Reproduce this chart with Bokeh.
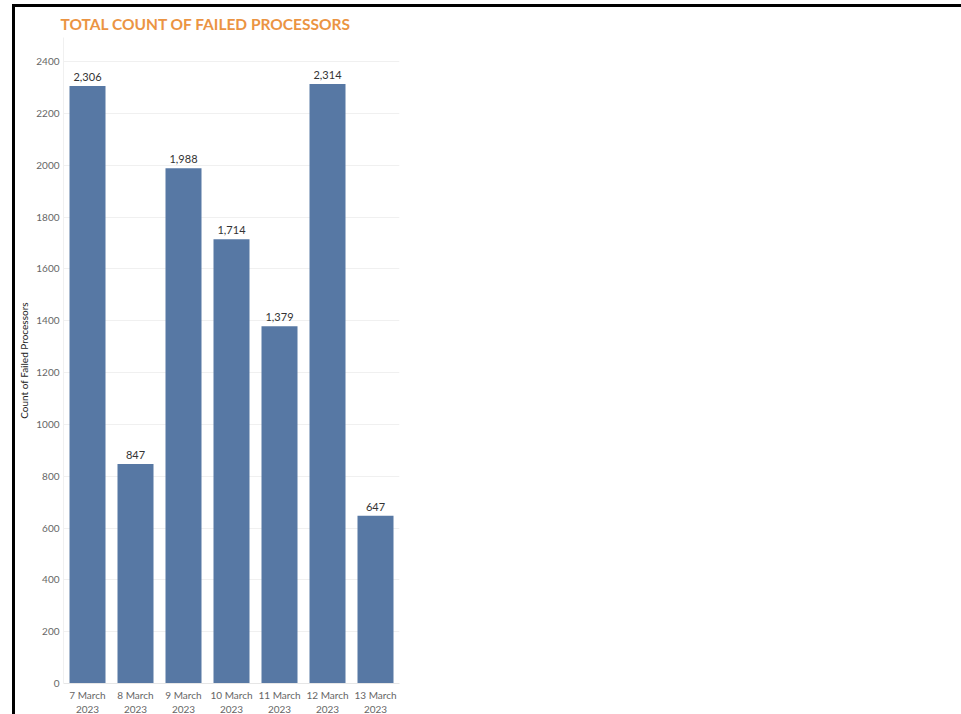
from bokeh.plotting import figure
from bokeh.models import ColumnDataSource, Range1d, FixedTicker
from bokeh.core.properties import value
from bokeh.embed import file_html
from bokeh.resources import INLINE

dates = ["7 March\n2023", "8 March\n2023", "9 March\n2023", "10 March\n2023",
         "11 March\n2023", "12 March\n2023", "13 March\n2023"]
counts = [2306, 847, 1988, 1714, 1379, 2314, 647]
labels = ["2,306", "847", "1,988", "1,714", "1,379", "2,314", "647"]
y_ticks = [0, 200, 400, 600, 800, 1000, 1200, 1400, 1600, 1800, 2000, 2200, 2400]

src = ColumnDataSource(dict(x=dates, y=counts, lab=labels))

FONT = "Lato"

p = figure(x_range=dates, y_range=Range1d(0, 2493), width=946, height=707,
           frame_width=336, frame_height=646,
           output_backend="svg", toolbar_location=None,
           min_border_left=48, min_border_right=562, min_border_top=30, min_border_bottom=31,
           styles={"margin-left": "12px", "margin-top": "4px",
                   "border-left": "3px solid black", "border-top": "3px solid black"})

p.vbar(x="x", top="y", width=0.75, source=src, fill_color="#5778a4", line_color=None)
p.text(x="x", y="y", text="lab", source=src, text_align="center", text_baseline="bottom",
       y_offset=-5, text_font=value(FONT), text_font_size="11px", text_color="#333333")

p.title.text = "TOTAL COUNT OF FAILED PROCESSORS"
p.title.text_color = "#eb9443"
p.title.text_font = FONT
p.title.text_font_size = "15.5px"
p.title.text_font_style = "bold"
p.title.align = "left"
p.title.offset = -3
p.title.standoff = 6
p.title.vertical_align = "top"

p.outline_line_color = None
p.xgrid.grid_line_color = None
p.ygrid.grid_line_color = "#f0f0f0"
p.ygrid.ticker = FixedTicker(ticks=y_ticks)

p.yaxis.ticker = FixedTicker(ticks=y_ticks)
p.yaxis.axis_line_color = "#f0f0f0"
p.yaxis.major_tick_line_color = None
p.yaxis.minor_tick_line_color = None
p.yaxis.major_tick_out = 0
p.yaxis.major_tick_in = 0
p.yaxis.minor_tick_out = 0
p.yaxis.major_label_text_font = FONT
p.yaxis.major_label_text_font_size = "10px"
p.yaxis.major_label_text_color = "#666666"
p.yaxis.major_label_standoff = 4
p.yaxis.axis_label = "Count of Failed Processors"
p.yaxis.axis_label_text_font = FONT
p.yaxis.axis_label_text_font_size = "10px"
p.yaxis.axis_label_text_font_style = "normal"
p.yaxis.axis_label_text_color = "#222222"
p.yaxis.axis_label_standoff = 3

p.xaxis.axis_line_color = "#e6e6e6"
p.xaxis.major_tick_line_color = None
p.xaxis.minor_tick_line_color = None
p.xaxis.major_tick_out = 0
p.xaxis.major_tick_in = 0
p.xaxis.major_label_text_font = FONT
p.xaxis.major_label_text_font_size = "10px"
p.xaxis.major_label_text_color = "#666666"
p.xaxis.major_label_standoff = 5

p.background_fill_color = "white"
p.border_fill_color = "white"

open("out.html", "w").write(file_html(p, INLINE))
